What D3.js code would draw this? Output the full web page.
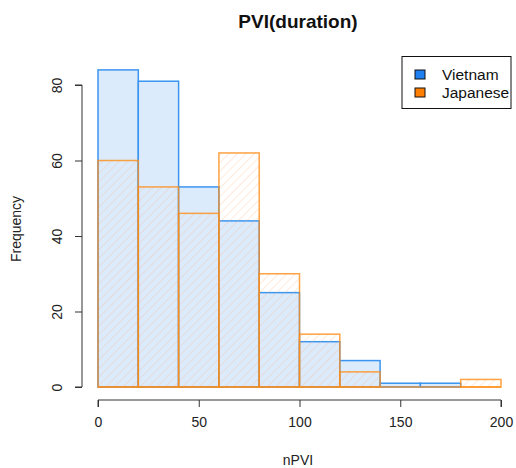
<!DOCTYPE html>
<html><head><meta charset="utf-8">
<script src="https://cdn.jsdelivr.net/npm/d3@7"></script>
<style>body{margin:0;background:#fff}svg{display:block;font-family:"Liberation Sans",Arial,sans-serif}</style>
</head><body><svg id="c" width="516" height="468"></svg>
<script>
const binStarts = [0,20,40,60,80,100,120,140,160,180];
const binWidth = 20;
const vietnam = [84,81,53,44,25,12,7,1,1,0];
const japanese = [60,53,46,62,30,14,4,0,0,2];
const xTicks = [0,50,100,150,200];
const yTicks = [0,20,40,60,80];
const seriesNames = ["Vietnam","Japanese"];

const svg = d3.select("#c");
const x = d3.scaleLinear().domain([0,200]).range([98,501]);
const y = d3.scaleLinear().domain([0,80]).range([387,85]);

const defs = svg.append("defs");
const pat = defs.append("pattern").attr("id","hatch").attr("patternUnits","userSpaceOnUse")
  .attr("width",6).attr("height",6).attr("patternTransform","rotate(45)");
pat.append("line").attr("x1",0).attr("y1",0).attr("x2",0).attr("y2",6)
  .attr("stroke","rgba(255,170,110,0.3)").attr("stroke-width",1.6);

// Vietnam bars
svg.append("g").selectAll("rect").data(vietnam).join("rect")
  .attr("x",(d,i)=>x(binStarts[i]))
  .attr("width",(d,i)=>x(binStarts[i]+binWidth)-x(binStarts[i]))
  .attr("y",d=>y(d)).attr("height",d=>y(0)-y(d))
  .attr("fill","#dcebfc").attr("stroke","#3a95f0").attr("stroke-width",1.5)
  .style("display",d=>d>0?null:"none");

// Japanese bars
svg.append("g").selectAll("rect").data(japanese).join("rect")
  .attr("x",(d,i)=>x(binStarts[i]))
  .attr("width",(d,i)=>x(binStarts[i]+binWidth)-x(binStarts[i]))
  .attr("y",d=>y(d)).attr("height",d=>y(0)-y(d))
  .attr("fill","url(#hatch)").attr("stroke","rgba(255,140,20,0.8)").attr("stroke-width",1.5);

// baseline across empty bins (orange)
svg.append("line").attr("x1",x(0)).attr("x2",x(200)).attr("y1",y(0)).attr("y2",y(0))
  .attr("stroke","rgba(255,140,20,0.8)").attr("stroke-width",1.5);

// X axis
const xa = svg.append("g").attr("transform","translate(0,400)")
  .call(d3.axisBottom(x).tickValues(xTicks).tickSize(7).tickPadding(10).tickFormat(d3.format("d")));
xa.select(".domain").attr("stroke","#333").attr("d",`M${x(0)},7V0H${x(200)}V7`);
xa.selectAll(".tick line").attr("stroke","#333");
xa.selectAll("text").attr("font-size",14).attr("fill","#222").attr("font-family","Liberation Sans, Arial, sans-serif");

// Y axis
const ya = svg.append("g").attr("transform","translate(82,0)")
  .call(d3.axisLeft(y).tickValues(yTicks).tickSize(7).tickFormat(d3.format("d")));
ya.select(".domain").attr("stroke","#333").attr("d",`M-7,${y(80)}H0V${y(0)}H-7`);
ya.selectAll(".tick line").attr("stroke","#333");
ya.selectAll("text").attr("font-size",14).attr("fill","#222")
  .attr("font-family","Liberation Sans, Arial, sans-serif")
  .attr("transform","rotate(-90)").attr("x",0).attr("y",-25).attr("dy","0.35em")
  .attr("text-anchor","middle");

// Titles
svg.append("text").attr("x",298).attr("y",28).attr("text-anchor","middle")
  .attr("font-weight","bold").attr("font-size",19).attr("fill","#111").text("PVI(duration)");
svg.append("text").attr("x",298).attr("y",465).attr("text-anchor","middle")
  .attr("font-size",14).attr("fill","#222").text("nPVI");
svg.append("text").attr("transform","translate(21,229) rotate(-90)").attr("text-anchor","middle")
  .attr("font-size",14).attr("fill","#222").text("Frequency");

// Legend
const lg = svg.append("g");
lg.append("rect").attr("x",402).attr("y",56.5).attr("width",109).attr("height",52)
  .attr("fill","#fff").attr("stroke","#111").attr("stroke-width",1);
const legColors = ["#1e7ff0","#ff7f00"];
seriesNames.forEach((n,i)=>{
  lg.append("rect").attr("x",415).attr("y",70+i*18).attr("width",10).attr("height",9)
    .attr("fill",legColors[i]).attr("stroke","#111").attr("stroke-width",1);
  lg.append("text").attr("x",442).attr("y",75+i*18).attr("dy","0.35em")
    .attr("font-size",15.5).attr("fill","#111").text(n);
});
</script></body></html>
